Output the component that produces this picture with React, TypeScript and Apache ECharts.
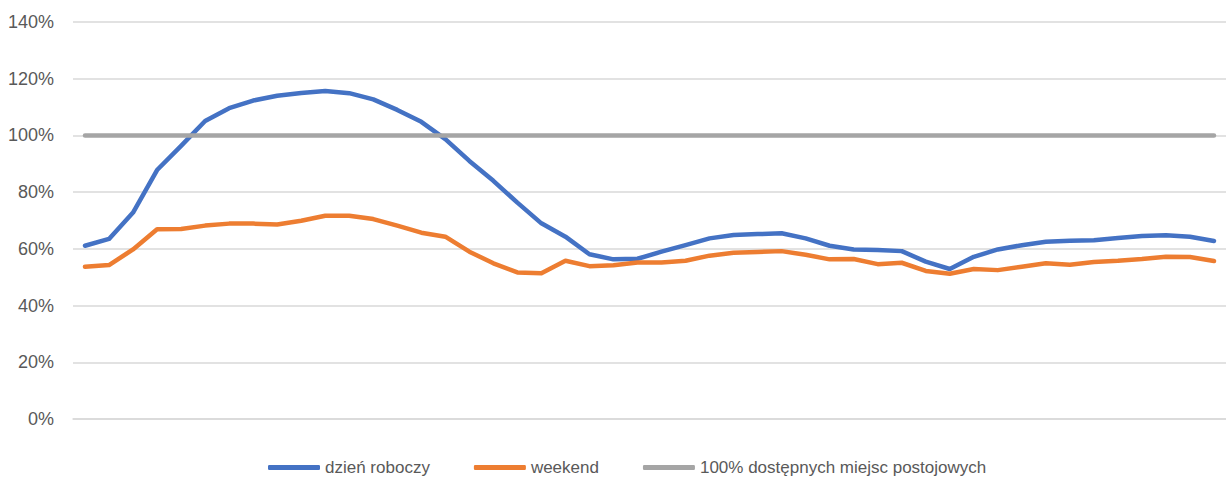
import React, { useEffect, useRef } from "react";
import * as echarts from "echarts";

const categories: string[] = [
  "00:00", "00:30", "01:00", "01:30", "02:00", "02:30", "03:00", "03:30",
  "04:00", "04:30", "05:00", "05:30", "06:00", "06:30", "07:00", "07:30",
  "08:00", "08:30", "09:00", "09:30", "10:00", "10:30", "11:00", "11:30",
  "12:00", "12:30", "13:00", "13:30", "14:00", "14:30", "15:00", "15:30",
  "16:00", "16:30", "17:00", "17:30", "18:00", "18:30", "19:00", "19:30",
  "20:00", "20:30", "21:00", "21:30", "22:00", "22:30", "23:00", "23:30",
];

const dzienRoboczy: number[] = [
  61.1, 63.5, 72.8, 87.8, 96.3, 105.1, 109.6, 112.3,
  114.0, 115.0, 115.7, 114.9, 112.7, 109.0, 104.8, 98.7,
  91.0, 84.0, 76.3, 69.0, 64.3, 58.1, 56.3, 56.5,
  59.0, 61.3, 63.7, 64.9, 65.2, 65.5, 63.7, 61.1,
  59.8, 59.6, 59.2, 55.5, 52.9, 57.2, 59.8, 61.3,
  62.5, 62.9, 63.0, 63.8, 64.5, 64.8, 64.3, 62.8,
];

const weekend: number[] = [
  53.7, 54.3, 59.8, 66.9, 67.0, 68.2, 68.9, 68.9,
  68.6, 69.9, 71.7, 71.7, 70.5, 68.2, 65.7, 64.3,
  59.0, 54.9, 51.7, 51.4, 55.8, 53.9, 54.2, 55.2,
  55.2, 55.8, 57.6, 58.6, 58.9, 59.2, 57.9, 56.3,
  56.4, 54.6, 55.1, 52.2, 51.2, 52.9, 52.5, 53.7,
  54.9, 54.4, 55.4, 55.8, 56.4, 57.2, 57.1, 55.7,
];

const dostepneMiejsca: number[] = [
  100, 100, 100, 100, 100, 100, 100, 100,
  100, 100, 100, 100, 100, 100, 100, 100,
  100, 100, 100, 100, 100, 100, 100, 100,
  100, 100, 100, 100, 100, 100, 100, 100,
  100, 100, 100, 100, 100, 100, 100, 100,
  100, 100, 100, 100, 100, 100, 100, 100,
];

const seriesNames: string[] = [
  "dzień roboczy",
  "weekend",
  "100% dostępnych miejsc postojowych",
];

const FONT = "'Liberation Sans', Arial, sans-serif";

export default function App() {
  const ref = useRef<HTMLDivElement>(null);

  useEffect(() => {
    if (!ref.current) return;
    const chart = echarts.init(ref.current, undefined, { renderer: "svg" });
    const lineSeries = (name: string, data: number[], color: string) => ({
      name,
      type: "line",
      data,
      symbol: "none",
      color,
      lineStyle: { color, width: 4.5, cap: "round", join: "round" },
      emphasis: { disabled: true },
    });
    chart.setOption({
      animation: false,
      backgroundColor: "#ffffff",
      textStyle: { fontFamily: FONT },
      grid: { left: 73, top: 22, width: 1157, height: 397, containLabel: false },
      legend: {
        left: 263,
        top: 454,
        itemWidth: 52,
        itemHeight: 5,
        itemGap: 44,
        icon: "roundRect",
        textStyle: { fontFamily: FONT, fontSize: 17, color: "#595959" },
        data: seriesNames,
      },
      xAxis: {
        type: "category",
        data: categories,
        boundaryGap: true,
        axisLine: { show: true, lineStyle: { color: "#D9D9D9", width: 1.5 } },
        axisTick: { show: false },
        axisLabel: { show: false },
        splitLine: { show: false },
      },
      yAxis: {
        type: "value",
        min: 0,
        max: 140,
        interval: 20,
        axisLine: { show: false },
        axisTick: { show: false },
        axisLabel: {
          formatter: "{value}%",
          margin: 19,
          color: "#595959",
          fontSize: 18,
          fontFamily: FONT,
        },
        splitLine: { show: true, lineStyle: { color: "#D9D9D9", width: 1.5 } },
      },
      series: [
        lineSeries(seriesNames[0], dzienRoboczy, "#4472C4"),
        lineSeries(seriesNames[1], weekend, "#ED7D31"),
        lineSeries(seriesNames[2], dostepneMiejsca, "#A5A5A5"),
      ],
    });
    return () => chart.dispose();
  }, []);

  return (
    <div
      ref={ref}
      style={{ position: "fixed", left: 0, top: 0, width: 1226, height: 479, background: "#fff" }}
    />
  );
}
